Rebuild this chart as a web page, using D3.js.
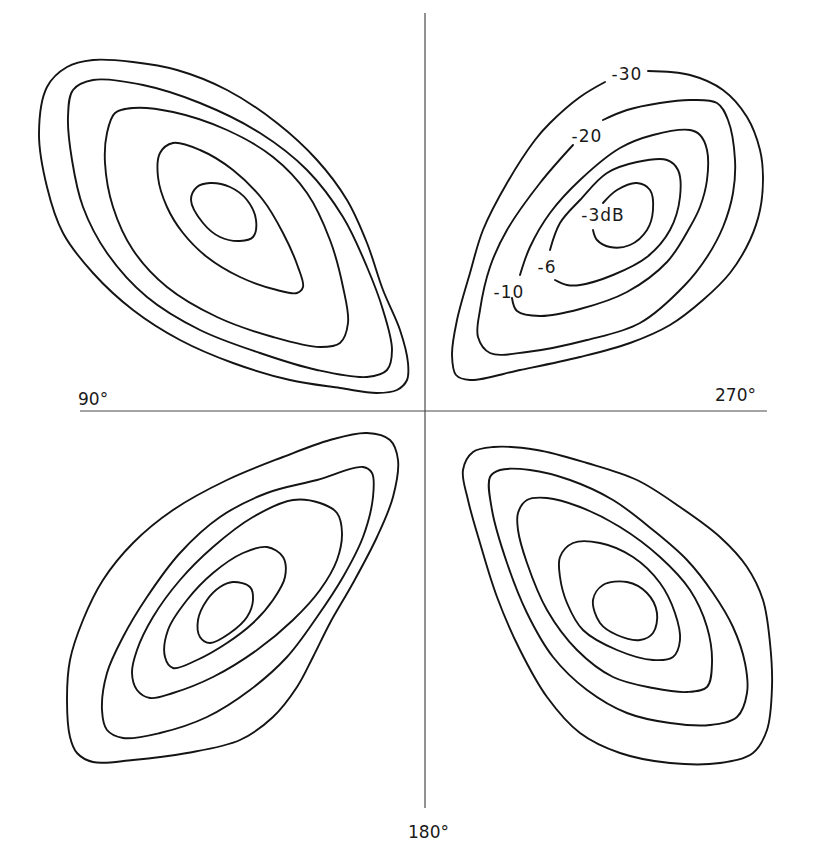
<!DOCTYPE html>
<html>
<head>
<meta charset="utf-8">
<script src="https://cdn.jsdelivr.net/npm/d3@7"></script>
<style>
  html, body { margin: 0; padding: 0; background: #ffffff; }
  svg { display: block; }
  text { font-family: "DejaVu Sans", sans-serif; fill: #1a1a1a; }
</style>
</head>
<body>
<div id="chart"></div>
<script>
// Four-lobe radiation pattern: constant-level contours (dB) in a plane
// centred on the boresight, with the 90°–270° and 0°–180° cuts as axes.
// Coordinates are offsets from the axis crossing (x to the right, y upward).

const levels = [-3, -6, -10, -20, -30];

// Upper-left lobe
const ulM3  = [[-234,211],[-228,224],[-215,228],[-195,224],[-178,211],[-169,191],[-172,174],[-185,170],[-205,174],[-222,188]];
const ulM6  = [[-267,234],[-265,258],[-252,268],[-225,261],[-192,241],[-162,211],[-142,178],[-127,144],[-122,124],[-128,118],[-148,121],[-185,134],[-218,154],[-242,178],[-258,204]];
const ulM10 = [[-320,248],[-318,278],[-310,298],[-292,303],[-252,299],[-198,281],[-152,254],[-118,218],[-95,171],[-82,124],[-77,88],[-85,68],[-105,64],[-152,74],[-208,94],[-258,124],[-292,161],[-312,204]];
const ulM20 = [[-357,294],[-352,321],[-332,331],[-282,326],[-225,308],[-165,278],[-118,241],[-82,194],[-58,144],[-42,101],[-33,61],[-38,41],[-58,34],[-108,41],[-165,58],[-225,81],[-278,114],[-318,158],[-342,204],[-353,251]];
const ulM30 = [[-386,278],[-378,324],[-358,344],[-332,351],[-292,349],[-248,341],[-198,321],[-148,288],[-108,251],[-78,211],[-58,168],[-42,121],[-25,81],[-17,48],[-18,31],[-28,21],[-48,18],[-85,23],[-135,31],[-192,48],[-245,71],[-292,101],[-332,138],[-362,178],[-378,224]];

// Upper-right lobe (open traces, broken where the level labels sit)
const urM3  = [[178,208],[192,221],[212,228],[225,221],[228,201],[222,181],[205,166],[185,164],[172,171],[168,181]];
const urM6  = [[125,161],[135,188],[155,211],[182,238],[212,249],[242,251],[253,241],[255,214],[245,181],[222,154],[188,136],[155,126],[142,126],[130,131]];
const urM10 = [[95,136],[105,164],[125,198],[155,231],[195,263],[228,276],[265,281],[275,276],[282,261],[282,231],[275,204],[265,184],[242,149],[202,119],[155,102],[115,95],[92,100],[87,113]];
const urM20 = [[178,291],[202,301],[235,308],[265,311],[292,308],[303,291],[310,251],[308,218],[298,184],[282,154],[260,126],[215,88],[162,71],[102,59],[65,58],[53,74],[55,101],[65,144],[82,181],[115,228],[148,266]];
const urM30 = [[223,340],[265,336],[298,321],[322,294],[335,261],[338,234],[335,201],[325,171],[305,138],[278,111],[245,86],[205,68],[155,54],[95,41],[45,31],[31,36],[27,56],[32,91],[45,138],[58,181],[82,228],[110,271],[125,288],[155,314],[180,329]];

// Lower-left lobe
const llM3  = [[-192,-171],[-175,-176],[-172,-189],[-178,-206],[-195,-222],[-215,-232],[-225,-226],[-227,-209],[-218,-189],[-205,-176]];
const llM6  = [[-158,-136],[-142,-146],[-140,-166],[-152,-189],[-172,-212],[-198,-232],[-228,-249],[-252,-257],[-260,-246],[-257,-219],[-238,-189],[-212,-162],[-182,-142]];
const llM10 = [[-132,-89],[-105,-92],[-88,-102],[-83,-122],[-88,-149],[-105,-179],[-132,-209],[-168,-239],[-212,-266],[-252,-282],[-275,-287],[-288,-279],[-293,-262],[-288,-239],[-272,-206],[-245,-169],[-212,-136],[-172,-106]];
const llM20 = [[-62,-56],[-53,-62],[-52,-86],[-62,-126],[-82,-166],[-108,-206],[-138,-246],[-175,-279],[-218,-306],[-265,-322],[-302,-327],[-318,-319],[-323,-299],[-318,-262],[-302,-226],[-278,-186],[-245,-142],[-205,-106],[-158,-82],[-108,-69]];
const llM30 = [[-58,-22],[-35,-29],[-27,-49],[-32,-86],[-48,-126],[-72,-172],[-95,-212],[-112,-246],[-128,-276],[-152,-306],[-185,-329],[-238,-342],[-292,-349],[-332,-351],[-348,-342],[-355,-326],[-358,-289],[-355,-249],[-342,-209],[-322,-169],[-292,-132],[-252,-99],[-198,-69],[-142,-46],[-95,-29]];

// Lower-right lobe
const lrM3  = [[168,-189],[178,-174],[202,-171],[222,-182],[232,-202],[228,-222],[215,-229],[192,-224],[175,-212]];
const lrM6  = [[135,-146],[148,-132],[175,-132],[208,-146],[235,-172],[250,-202],[255,-229],[248,-246],[228,-249],[192,-239],[158,-219],[142,-192],[135,-166]];
const lrM10 = [[93,-102],[102,-89],[122,-87],[155,-96],[195,-116],[235,-146],[265,-179],[282,-216],[287,-252],[282,-276],[262,-281],[228,-277],[188,-266],[152,-239],[122,-199],[102,-152],[93,-119]];
const lrM20 = [[65,-66],[75,-59],[105,-59],[145,-69],[188,-89],[228,-119],[262,-149],[288,-182],[308,-216],[320,-252],[322,-282],[312,-306],[285,-314],[245,-312],[202,-302],[162,-279],[128,-246],[102,-202],[82,-152],[67,-99]];
const lrM30 = [[38,-59],[48,-41],[68,-36],[112,-39],[162,-52],[212,-69],[255,-96],[295,-126],[322,-156],[338,-189],[345,-232],[347,-276],[342,-319],[328,-342],[295,-352],[245,-352],[195,-342],[155,-322],[122,-286],[95,-239],[72,-186],[55,-132],[43,-89]];

// Level labels on the upper-right lobe: [text, x, baseline y]
const levelLabels = [
  ["-30", 202, 331],
  ["-20", 162, 269],
  ["-10", 84, 113],
  ["-6", 122, 138],
  ["-3dB", 178, 190]
];

// Cut labels: [text, x (start), baseline y]
const cutLabels = [
  ["90°", -347, 6],
  ["270°", 290, 10],
  ["180°", -17, -427]
];

// Axis extents
const hAxis = [[-345, 0], [342, 0]];
const vAxis = [[0, 398], [0, -397]];

const width = 825, height = 842;

const x = d3.scaleLinear().domain([-425, 400]).range([0, width]);
const y = d3.scaleLinear().domain([411, -431]).range([0, height]);

const svg = d3.select("#chart").append("svg")
  .attr("width", width).attr("height", height)
  .attr("viewBox", [0, 0, width, height]);

svg.append("rect").attr("width", width).attr("height", height).attr("fill", "#ffffff");

const straight = d3.line().x(d => x(d[0])).y(d => y(d[1]));

// Axes
svg.append("g")
  .selectAll("path")
  .data([hAxis, vAxis])
  .join("path")
  .attr("d", straight)
  .attr("fill", "none")
  .attr("stroke", "#4a4a4a")
  .attr("stroke-width", 1.2);

const closedLine = d3.line()
  .x(d => x(d[0])).y(d => y(d[1]))
  .curve(d3.curveCatmullRomClosed.alpha(0.5));

const openLine = d3.line()
  .x(d => x(d[0])).y(d => y(d[1]))
  .curve(d3.curveCatmullRom.alpha(0.5));

const closedLobes = [
  [ulM3, ulM6, ulM10, ulM20, ulM30],
  [llM3, llM6, llM10, llM20, llM30],
  [lrM3, lrM6, lrM10, lrM20, lrM30]
];
const openLobe = [urM3, urM6, urM10, urM20, urM30];

const contours = svg.append("g")
  .attr("fill", "none")
  .attr("stroke", "#141414")
  .attr("stroke-width", 1.9)
  .attr("stroke-linejoin", "round")
  .attr("stroke-linecap", "round");

closedLobes.forEach(lobe => {
  contours.append("g")
    .selectAll("path")
    .data(lobe.map((pts, i) => ({ level: levels[i], pts })))
    .join("path")
    .attr("class", d => "level" + d.level)
    .attr("d", d => closedLine(d.pts));
});

contours.append("g")
  .selectAll("path")
  .data(openLobe.map((pts, i) => ({ level: levels[i], pts })))
  .join("path")
  .attr("class", d => "level" + d.level)
  .attr("d", d => openLine(d.pts));

// Level labels
svg.append("g")
  .selectAll("text")
  .data(levelLabels)
  .join("text")
  .attr("x", d => x(d[1]))
  .attr("y", d => y(d[2]))
  .attr("text-anchor", "middle")
  .attr("font-size", 17)
  .attr("letter-spacing", 1)
  .text(d => d[0]);

// Cut labels
svg.append("g")
  .selectAll("text")
  .data(cutLabels)
  .join("text")
  .attr("x", d => x(d[1]))
  .attr("y", d => y(d[2]))
  .attr("font-size", 17)
  .text(d => d[0]);
</script>
</body>
</html>
